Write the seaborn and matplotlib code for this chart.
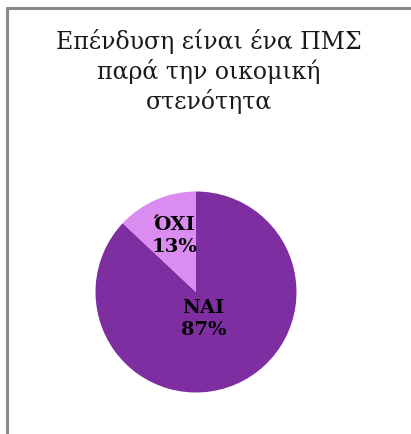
import matplotlib
matplotlib.use("Agg")
import matplotlib.pyplot as plt
from matplotlib.lines import Line2D
import numpy as np
import seaborn as sns

# Survey answers
answers = ["ΝΑΙ", "ΌΧΙ"]
shares = [87, 13]
title_lines = ["Επένδυση είναι ένα ΠΜΣ", "παρά την οικομική", "στενότητα"]

sns.set_theme(style="white")
plt.rcParams["font.family"] = ["DejaVu Serif"]

colors = ["#7e2ea1", "#db8cf0"]

W, H = 411, 435
fig = plt.figure(figsize=(W / 100, H / 100), dpi=100)
fig.patch.set_facecolor("white")

# chart frame: top and left edges visible
fig.add_artist(Line2D([6.5 / W, 6.5 / W], [0, 1 - 9 / H], color="#8a8a8a", lw=2.2))
fig.add_artist(Line2D([6.5 / W, 1], [1 - 9 / H, 1 - 9 / H], color="#8a8a8a", lw=2.2))

fig.text(209 / W, 1 - 29 / H, "\n".join(title_lines), ha="center", va="top",
         fontsize=17, color="#1a1a1a", linespacing=1.24)

cx, cy, r = 196, 293, 100.5
ax = fig.add_axes([(cx - r) / W, (H - cy - r) / H, 2 * r / W, 2 * r / H])
wedges, texts = ax.pie(shares, colors=colors, startangle=90, counterclock=False,
                       radius=1, wedgeprops=dict(linewidth=0))
ax.set_xlim(-1, 1)
ax.set_ylim(-1, 1)
ax.set_aspect("equal")
ax.axis("off")

# labels inside each wedge, along the wedge's bisector
label_radius = [0.26, 0.62]
label_shift = [(-0.03, -0.02), (0.03, 0.0)]
for w, name, val, rr, (dx, dy) in zip(wedges, answers, shares, label_radius, label_shift):
    ang = np.deg2rad((w.theta1 + w.theta2) / 2)
    ax.text(rr * np.cos(ang) + dx, rr * np.sin(ang) + dy, f"{name}\n{val}%",
            ha="center", va="center", fontsize=14, fontweight="bold",
            color="black", linespacing=1.25)

fig.savefig("out.png", dpi=100)
